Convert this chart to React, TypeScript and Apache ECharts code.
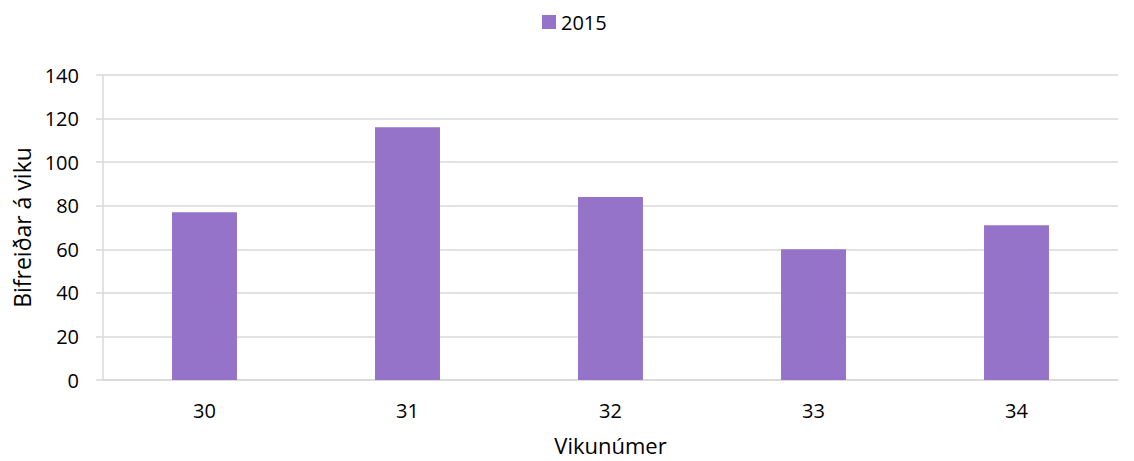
import React, { useEffect, useRef } from "react";
import * as echarts from "echarts";

const categories = ["30", "31", "32", "33", "34"];
const values2015 = [77, 116, 84, 60, 71];
const seriesName = "2015";
const yAxisTitle = "Bifreiðar á viku";
const xAxisTitle = "Vikunúmer";

export default function App() {
  const ref = useRef<HTMLDivElement>(null);
  useEffect(() => {
    if (!ref.current) return;
    const chart = echarts.init(ref.current, null, { renderer: "svg" });
    const font = "'Open Sans', 'Liberation Sans', sans-serif";
    chart.setOption({
      animation: false,
      textStyle: { fontFamily: font },
      legend: {
        top: 7,
        left: 537,
        data: [seriesName],
        itemWidth: 14,
        itemHeight: 14,
        itemGap: 6,
        textStyle: { fontSize: 20, color: "#000", fontFamily: font },
        icon: "rect",
      },
      grid: { left: 103, right: 16, top: 75, bottom: 81, outerBoundsMode: "none" },
      xAxis: {
        type: "category",
        data: categories,
        name: xAxisTitle,
        nameLocation: "middle",
        nameGap: 54,
        nameTextStyle: { fontSize: 22, lineHeight: 22, color: "#000", fontFamily: font },
        axisLine: { lineStyle: { color: "#d9d9d9", width: 1.5 } },
        axisTick: { show: false },
        axisLabel: { fontSize: 20, color: "#000", margin: 20, fontFamily: font },
      },
      yAxis: {
        type: "value",
        min: 0,
        max: 140,
        interval: 20,
        name: yAxisTitle,
        nameLocation: "middle",
        nameGap: 70,
        nameTextStyle: { fontSize: 23, color: "#000", fontFamily: font },
        axisLine: { show: true, lineStyle: { color: "#d9d9d9", width: 1.5 } },
        axisTick: { show: true, length: 7, lineStyle: { color: "#d9d9d9", width: 1.5 } },
        axisLabel: { fontSize: 20, color: "#000", margin: 24, fontFamily: font },
        splitLine: { lineStyle: { color: "#d9d9d9", width: 1.5 } },
      },
      series: [
        {
          name: seriesName,
          type: "bar",
          data: values2015,
          barWidth: "32%",
          itemStyle: { color: "#9573C9" },
        },
      ],
    });
    return () => chart.dispose();
  }, []);
  return (
    <div
      ref={ref}
      style={{ position: "absolute", left: 0, top: 0, width: 1134, height: 461 }}
    />
  );
}
